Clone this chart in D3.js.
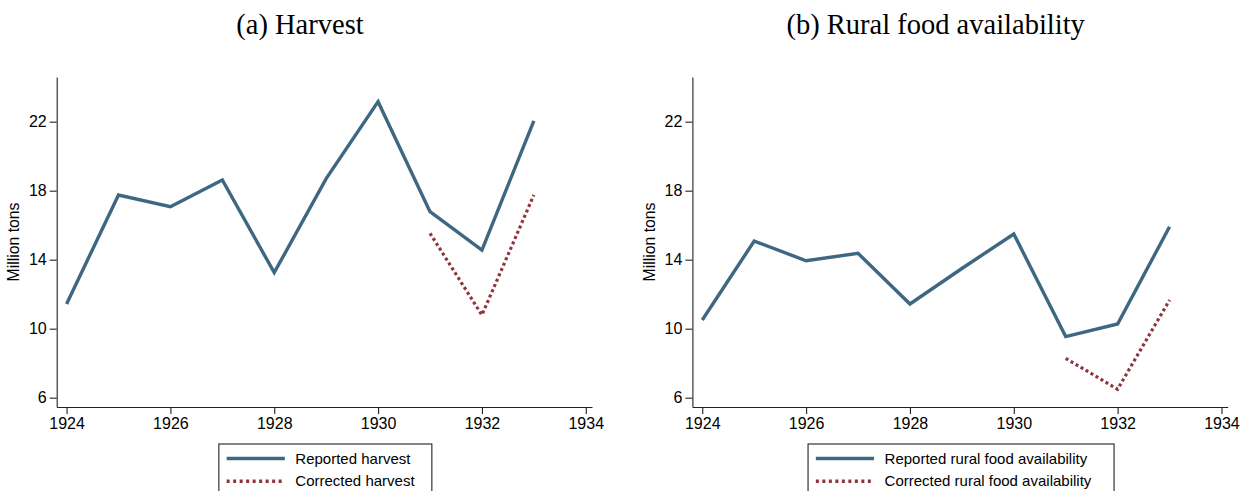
<!DOCTYPE html>
<html>
<head>
<meta charset="utf-8">
<style>
  body { margin: 0; background: #fff; }
  svg { display: block; }
  .tick text { font-family: "Liberation Sans", Arial, sans-serif; font-size: 16px; fill: #000; }
</style>
</head>
<body>
<svg width="1242" height="491"></svg>
<script src="https://d3js.org/d3.v7.min.js"></script>
<script>
// values (million tons)
var years = [1924, 1925, 1926, 1927, 1928, 1929, 1930, 1931, 1932, 1933];
var correctedYears = [1931, 1932, 1933];

var harvestReported = [11.43, 17.75, 17.07, 18.62, 13.25, 18.70, 23.16, 16.78, 14.56, 22.04];
var harvestCorrected = [15.53, 10.79, 17.75];

var foodReported = [10.50, 15.08, 13.94, 14.37, 11.43, 13.49, 15.49, 9.54, 10.27, 15.91];
var foodCorrected = [8.28, 6.49, 11.66];

var xTicks = [1924, 1926, 1928, 1930, 1932, 1934];
var yTicks = [6, 10, 14, 18, 22];

var panels = [
  { title: "(a) Harvest", reported: harvestReported, corrected: harvestCorrected,
    labels: ["Reported harvest", "Corrected harvest"], legendW: 213 },
  { title: "(b) Rural food availability", reported: foodReported, corrected: foodCorrected,
    labels: ["Reported rural food availability", "Corrected rural food availability"], legendW: 306 }
];

var blue = "#3e6782";
var red = "#8f343c";

var svg = d3.select("svg");

var x = d3.scaleLinear().domain([1923.81, 1934.12]).range([56.7, 592]);
var y = d3.scaleLinear().domain([5.46, 24.59]).range([407, 77]);

var line = d3.line()
    .x(function(d) { return x(d[0]); })
    .y(function(d) { return y(d[1]); });

panels.forEach(function(p, i) {
  var g = svg.append("g").attr("transform", "translate(" + (i * 635.7) + ",0)");
  var cx = (x.range()[0] + x.range()[1]) / 2;

  // title
  g.append("text")
      .attr("x", cx - 24.4)
      .attr("y", 34)
      .attr("text-anchor", "middle")
      .attr("font-family", "'Liberation Serif', 'Times New Roman', serif")
      .attr("font-size", 28.5)
      .text(p.title);

  // axes
  var yAxis = g.append("g")
      .attr("transform", "translate(" + x.range()[0] + ",0)")
      .call(d3.axisLeft(y).tickValues(yTicks).tickSize(7).tickPadding(3).tickSizeOuter(0));
  var xAxis = g.append("g")
      .attr("transform", "translate(0," + y.range()[0] + ")")
      .call(d3.axisBottom(x).tickValues(xTicks).tickFormat(d3.format("d")).tickSize(7).tickPadding(4).tickSizeOuter(0));
  [xAxis, yAxis].forEach(function(a) {
    a.selectAll("path, line").attr("stroke", "#222").attr("stroke-width", 1.1);
  });

  g.append("text")
      .attr("transform", "translate(" + 13.5 + "," + ((y.range()[0] + y.range()[1]) / 2) + ") rotate(-90)")
      .attr("text-anchor", "middle")
      .attr("dy", "0.35em")
      .attr("font-family", "'Liberation Sans', Arial, sans-serif")
      .attr("font-size", 15.8)
      .text("Million tons");

  // series
  g.append("path")
      .datum(years.map(function(yr, k) { return [yr, p.reported[k]]; }))
      .attr("fill", "none")
      .attr("stroke", blue)
      .attr("stroke-width", 3.4)
      .attr("stroke-linejoin", "miter")
      .attr("d", line);

  g.append("path")
      .datum(correctedYears.map(function(yr, k) { return [yr, p.corrected[k]]; }))
      .attr("fill", "none")
      .attr("stroke", red)
      .attr("stroke-width", 3.2)
      .attr("stroke-dasharray", "3,2.8")
      .attr("d", line);

  // legend
  var lx = cx + 1 - p.legendW / 2;
  var lg = g.append("g").attr("transform", "translate(" + lx + ",444)");
  lg.append("rect")
      .attr("x", 0).attr("y", 0)
      .attr("width", p.legendW).attr("height", 60)
      .attr("fill", "#fff")
      .attr("stroke", "#222")
      .attr("stroke-width", 1.1);
  [[blue, null], [red, "3,3.5"]].forEach(function(s, k) {
    var ly = 14.5 + k * 22.7;
    lg.append("line")
        .attr("x1", 7.8).attr("x2", 66)
        .attr("y1", ly).attr("y2", ly)
        .attr("stroke", s[0])
        .attr("stroke-width", 3.4)
        .attr("stroke-dasharray", s[1]);
    lg.append("text")
        .attr("x", 76.5)
        .attr("y", ly)
        .attr("dy", "0.35em")
        .attr("font-family", "'Liberation Sans', Arial, sans-serif")
        .attr("font-size", 15)
        .text(p.labels[k]);
  });
});
</script>
</body>
</html>
